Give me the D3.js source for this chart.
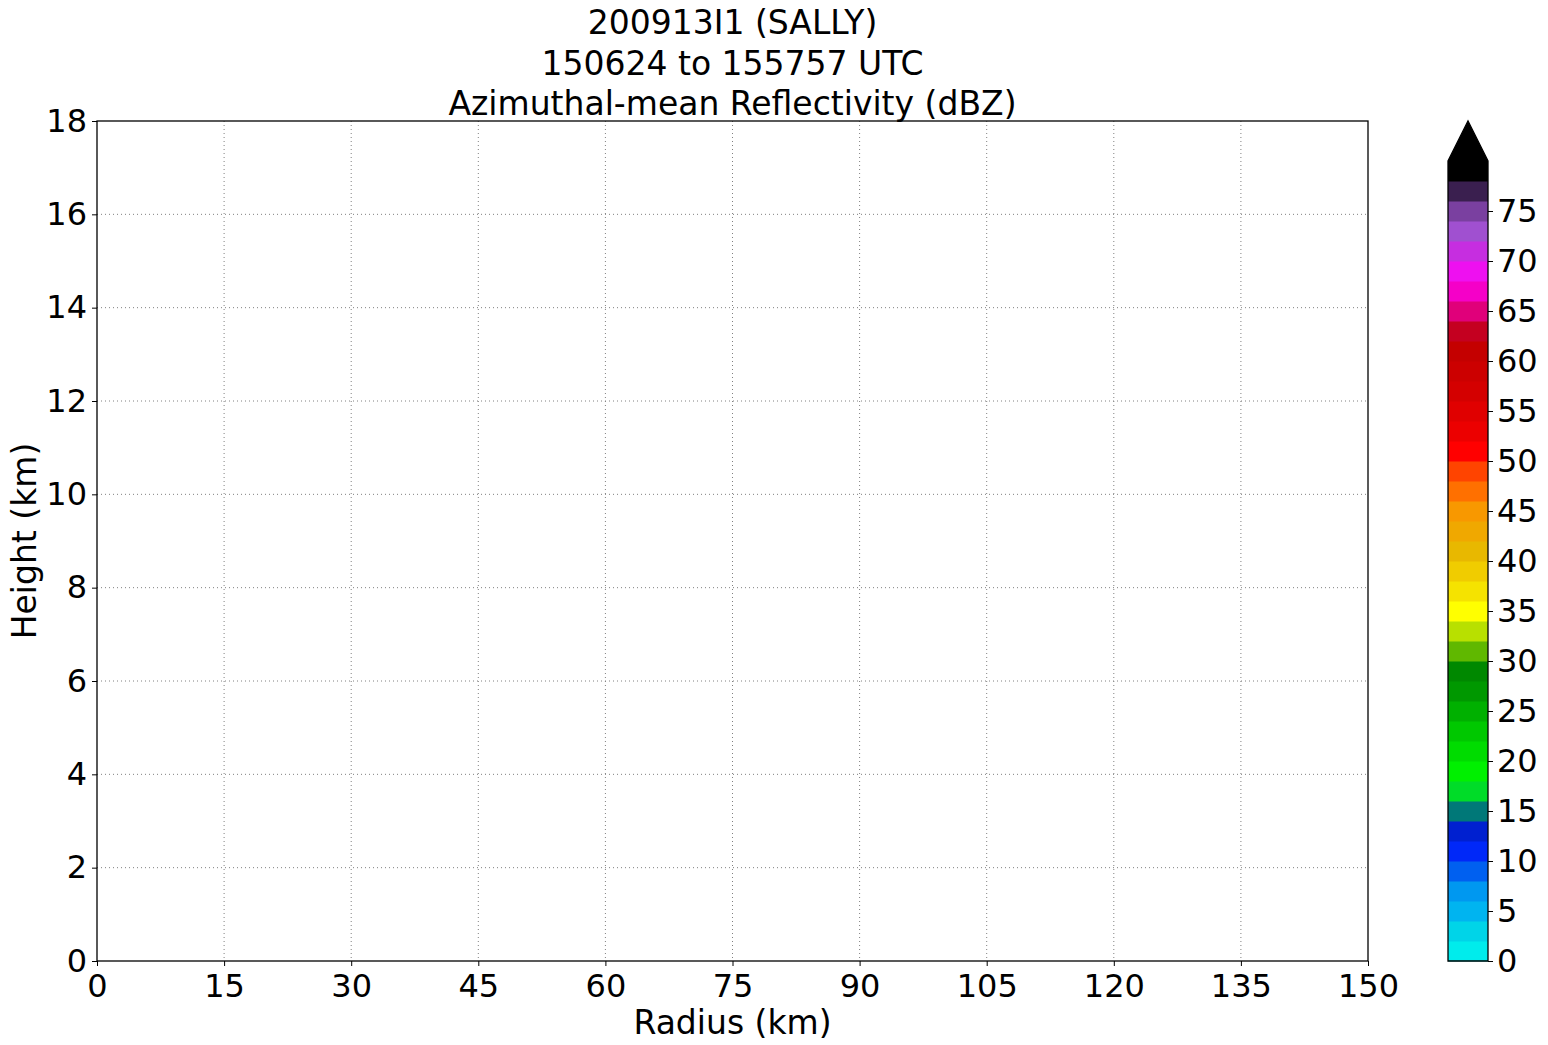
<!DOCTYPE html>
<html><head><meta charset="utf-8">
<script src="https://cdn.jsdelivr.net/npm/d3@7"></script>
<style>body{margin:0;background:#fff}svg{display:block;font-family:"DejaVu Sans",sans-serif}</style>
</head><body><svg id="c" width="1548" height="1045"></svg>
<script>
const titleLines = ["200913I1 (SALLY)", "150624 to 155757 UTC", "Azimuthal-mean Reflectivity (dBZ)"];
const xTicks = [0,15,30,45,60,75,90,105,120,135,150];
const yTicks = [0,2,4,6,8,10,12,14,16,18];
const levels = d3.range(0, 82, 2);
const levelColors = ["#00ecec","#00d4e8","#00b4f0","#0098f0","#0060f0","#0028f8","#0020d0","#007878","#00dc28","#00f000",
 "#00dc00","#00c800","#00b000","#009800","#008800","#60b800","#b8e000","#ffff00","#f5e300","#f0cc00",
 "#e8b800","#f0a800","#f89800","#ff7000","#ff4400","#ff0000","#ec0000","#e00000","#d40000","#cc0000",
 "#c40000","#c40020","#e0007a","#f500c8","#ee10f0","#c62ee0","#a050d0","#7a40a0","#3a1f4f","#000000"];
const cbTicks = [0,5,10,15,20,25,30,35,40,45,50,55,60,65,70,75];

const svg = d3.select("#c");
const L=97,R=1368,T=121,B=961;
const x = d3.scaleLinear().domain([0,150]).range([L,R]);
const y = d3.scaleLinear().domain([0,18]).range([B,T]);
const TF=32, LF=33;

const g = svg.append("g");
g.selectAll("line.vx").data(xTicks.slice(1,-1)).join("line")
 .attr("x1",d=>x(d)).attr("x2",d=>x(d)).attr("y1",T).attr("y2",B)
 .attr("stroke","#808080").attr("stroke-width",1).attr("stroke-dasharray","1,3");
g.selectAll("line.hy").data(yTicks.slice(1,-1)).join("line")
 .attr("y1",d=>y(d)).attr("y2",d=>y(d)).attr("x1",L).attr("x2",R)
 .attr("stroke","#808080").attr("stroke-width",1).attr("stroke-dasharray","1,3");

const xa = svg.append("g").attr("transform",`translate(0,${B})`)
 .call(d3.axisBottom(x).tickValues(xTicks).tickSize(5).tickPadding(5));
const ya = svg.append("g").attr("transform",`translate(${L},0)`)
 .call(d3.axisLeft(y).tickValues(yTicks).tickSize(5).tickPadding(5));
[xa,ya].forEach(a=>{a.select(".domain").remove();a.selectAll("text").attr("font-size",TF).attr("fill","#000").attr("font-family","DejaVu Sans");a.selectAll("line").attr("stroke","#000");});
xa.selectAll("text").attr("dy","0.8em");
svg.append("rect").attr("x",L).attr("y",T).attr("width",R-L).attr("height",B-T)
 .attr("fill","none").attr("stroke","#000").attr("stroke-width",1.3);

svg.append("text").attr("x",(L+R)/2).attr("y",1034).attr("text-anchor","middle").attr("font-size",LF).text("Radius (km)");
svg.append("text").attr("transform",`translate(36,${(T+B)/2}) rotate(-90)`).attr("text-anchor","middle").attr("font-size",LF).text("Height (km)");

svg.selectAll("text.title").data(titleLines).join("text")
 .attr("x",(L+R)/2).attr("y",(d,i)=>34+i*40.5).attr("text-anchor","middle").attr("font-size",LF).text(d=>d);

const cx0=1448,cx1=1488;
const cy = d3.scaleLinear().domain([0,80]).range([961,161]);
const cb = svg.append("g");
cb.selectAll("rect").data(levelColors).join("rect")
 .attr("x",cx0).attr("width",cx1-cx0)
 .attr("y",(d,i)=>cy(levels[i+1])).attr("height",(d,i)=>cy(levels[i])-cy(levels[i+1])+0.5)
 .attr("fill",d=>d);
cb.append("path").attr("d",`M${cx0},${cy(80)}L${(cx0+cx1)/2},121L${cx1},${cy(80)}Z`).attr("fill","#000");
cb.append("path").attr("d",`M${cx0},${cy(0)}L${cx0},${cy(80)}L${(cx0+cx1)/2},121L${cx1},${cy(80)}L${cx1},${cy(0)}Z`)
 .attr("fill","none").attr("stroke","#000").attr("stroke-width",1.3);
const ca = svg.append("g").attr("transform",`translate(${cx1},0)`)
 .call(d3.axisRight(cy).tickValues(cbTicks).tickSize(5).tickPadding(4));
ca.select(".domain").remove();
ca.selectAll("text").attr("font-size",TF).attr("fill","#000").attr("font-family","DejaVu Sans");
ca.selectAll("line").attr("stroke","#000");
</script></body></html>
